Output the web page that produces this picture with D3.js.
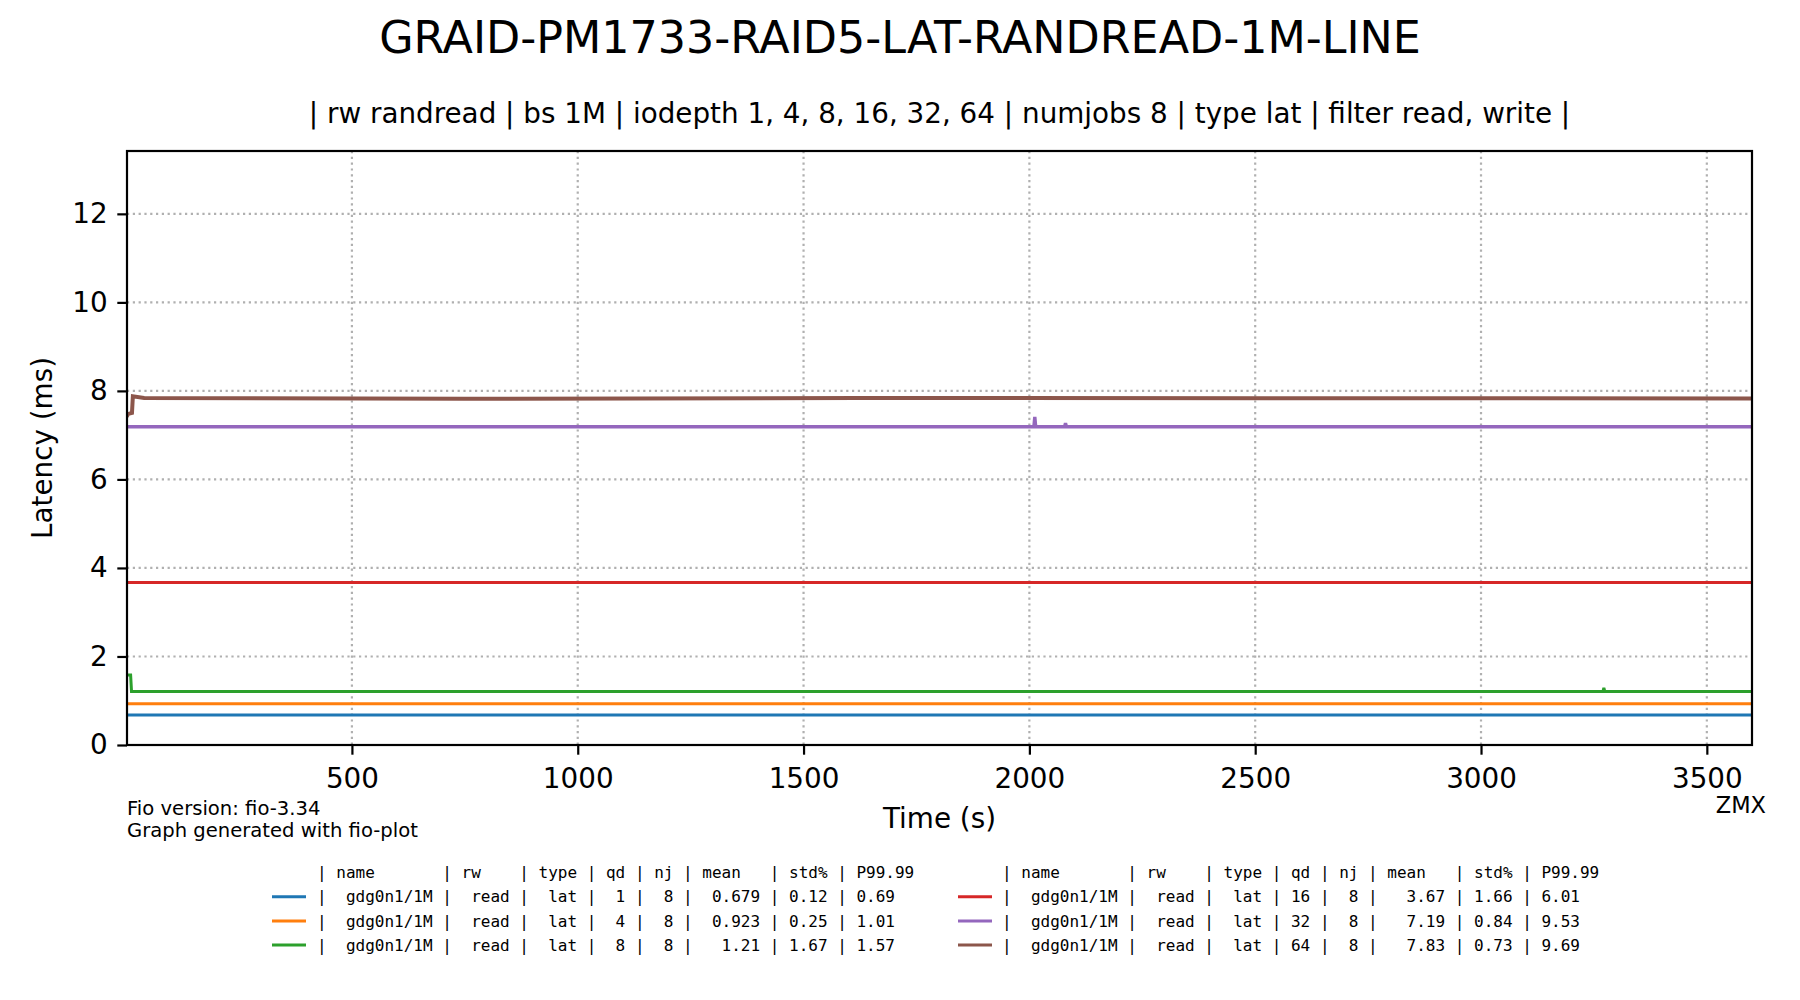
<!DOCTYPE html>
<html>
<head>
<meta charset="utf-8">
<script src="https://cdn.jsdelivr.net/npm/d3@7"></script>
<style>
  body { margin: 0; background: #fff; }
  svg { display: block; }
</style>
</head>
<body>
<svg id="chart" width="1800" height="1000"></svg>
<script>
// values: [time (s), latency (ms)] breakpoints
const seriesNames = ["qd1", "qd4", "qd8", "qd16", "qd32", "qd64"];
const colors = ["#1f77b4", "#ff7f0e", "#2ca02c", "#d62728", "#9467bd", "#8c564b"];
const qd1 = [[1, 0.68], [3600, 0.68]];
const qd4 = [[1, 0.93], [3600, 0.93]];
const qd8 = [[1, 1.58], [10, 1.58], [12, 1.21], [3270, 1.21], [3272, 1.29], [3274, 1.21], [3600, 1.21]];
const qd16 = [[1, 3.67], [3600, 3.67]];
const qd32 = [[1, 7.19], [2010, 7.19], [2012, 7.41], [2014, 7.19], [2078, 7.19], [2080, 7.27], [2082, 7.19], [3600, 7.19]];
const qd64 = [[1, 7.42], [5, 7.48], [13, 7.5], [15, 7.88], [40, 7.84], [750, 7.82], [1620, 7.84], [3600, 7.83]];
const seriesData = [qd1, qd4, qd8, qd16, qd32, qd64];

const xTicks = [500, 1000, 1500, 2000, 2500, 3000, 3500];
const yTicks = [0, 2, 4, 6, 8, 10, 12];

const legendHeader = "| name       | rw    | type | qd | nj | mean   | std% | P99.99";
const legendRows = [
  "|  gdg0n1/1M |  read |  lat |  1 |  8 |  0.679 | 0.12 | 0.69",
  "|  gdg0n1/1M |  read |  lat |  4 |  8 |  0.923 | 0.25 | 1.01",
  "|  gdg0n1/1M |  read |  lat |  8 |  8 |   1.21 | 1.67 | 1.57",
  "|  gdg0n1/1M |  read |  lat | 16 |  8 |   3.67 | 1.66 | 6.01",
  "|  gdg0n1/1M |  read |  lat | 32 |  8 |   7.19 | 0.84 | 9.53",
  "|  gdg0n1/1M |  read |  lat | 64 |  8 |   7.83 | 0.73 | 9.69"
];

const svg = d3.select("#chart");
const sans = "'DejaVu Sans', sans-serif";
const mono = "'DejaVu Sans Mono', monospace";

const plot = {left: 127, right: 1752, top: 151, bottom: 745};
const x = d3.scaleLinear().domain([2, 3600]).range([plot.left, plot.right]);
const y = d3.scaleLinear().domain([0, 13.42]).range([plot.bottom, plot.top]);

svg.append("defs").append("clipPath").attr("id", "clip")
  .append("rect")
  .attr("x", plot.left).attr("y", plot.top)
  .attr("width", plot.right - plot.left).attr("height", plot.bottom - plot.top);

// grid
const grid = svg.append("g").attr("stroke", "#b0b0b0").attr("stroke-width", 2.2)
  .attr("stroke-dasharray", "2.2,3.6");
grid.selectAll(".gx").data(xTicks).enter().append("line")
  .attr("x1", d => x(d)).attr("x2", d => x(d))
  .attr("y1", plot.top).attr("y2", plot.bottom);
grid.selectAll(".gy").data(yTicks.slice(1)).enter().append("line")
  .attr("x1", plot.left).attr("x2", plot.right)
  .attr("y1", d => y(d)).attr("y2", d => y(d));

// lines
const line = d3.line().x(d => x(d[0])).y(d => y(d[1]));
const widths = [3, 3, 3, 3, 3.4, 4];
svg.append("g").attr("clip-path", "url(#clip)")
  .selectAll("path").data(seriesData).enter().append("path")
  .attr("d", line)
  .attr("fill", "none")
  .attr("stroke", (d, i) => colors[i])
  .attr("stroke-width", (d, i) => widths[i])
  .attr("stroke-linejoin", "miter");

// axes
const xAxis = svg.append("g").attr("transform", "translate(0," + plot.bottom + ")")
  .call(d3.axisBottom(x).tickValues(xTicks).tickFormat(d3.format("d")).tickSize(9.7).tickPadding(12.5))
  .call(g => g.select(".domain").remove());
const yAxis = svg.append("g").attr("transform", "translate(" + plot.left + ",0)")
  .call(d3.axisLeft(y).tickValues(yTicks).tickSize(9.7).tickPadding(9.7))
  .call(g => g.select(".domain").remove());
[xAxis, yAxis].forEach(function (g) {
  g.selectAll("line").attr("stroke", "#000").attr("stroke-width", 2.2);
  g.selectAll("text").attr("fill", "#000")
    .style("font-family", sans).style("font-size", "27.8px");
});
xAxis.selectAll("text").attr("dy", "0.75em");

// frame
svg.append("rect")
  .attr("x", plot.left).attr("y", plot.top)
  .attr("width", plot.right - plot.left).attr("height", plot.bottom - plot.top)
  .attr("fill", "none").attr("stroke", "#000").attr("stroke-width", 2.2);

// titles and labels
svg.append("text").text("GRAID-PM1733-RAID5-LAT-RANDREAD-1M-LINE")
  .attr("x", 900).attr("y", 53).attr("text-anchor", "middle")
  .style("font-family", sans).style("font-size", "44.4px");
svg.append("text").text("| rw randread | bs 1M | iodepth 1, 4, 8, 16, 32, 64 | numjobs 8 | type lat | filter read, write |")
  .attr("x", (plot.left + plot.right) / 2).attr("y", 123).attr("text-anchor", "middle")
  .style("font-family", sans).style("font-size", "27.8px");
svg.append("text").text("Time (s)")
  .attr("x", (plot.left + plot.right) / 2).attr("y", 828).attr("text-anchor", "middle")
  .style("font-family", sans).style("font-size", "27.8px");
svg.append("text").text("Latency (ms)")
  .attr("transform", "translate(52," + ((plot.top + plot.bottom) / 2) + ") rotate(-90)")
  .attr("text-anchor", "middle")
  .style("font-family", sans).style("font-size", "27.8px");
svg.append("text").text("Fio version: fio-3.34")
  .attr("x", plot.left).attr("y", 815)
  .style("font-family", sans).style("font-size", "19.6px");
svg.append("text").text("Graph generated with fio-plot")
  .attr("x", plot.left).attr("y", 837)
  .style("font-family", sans).style("font-size", "19.6px");
svg.append("text").text("ZMX")
  .attr("x", 1766).attr("y", 813).attr("text-anchor", "end")
  .style("font-family", sans).style("font-size", "22.5px");

// legend, two columns of three
const legendCols = [{hx: 272, tx: 317}, {hx: 958, tx: 1002}];
const rowStep = 24.2, headY = 872.5;
legendCols.forEach(function (c, ci) {
  svg.append("text").text(legendHeader)
    .attr("x", c.tx).attr("y", headY).attr("dy", "0.36em")
    .style("white-space", "pre")
    .style("font-family", mono).style("font-size", "16px");
  const rows = d3.range(3).map(r => ci * 3 + r);
  const g = svg.append("g");
  g.selectAll("line").data(rows).enter().append("line")
    .attr("x1", c.hx).attr("x2", c.hx + 34)
    .attr("y1", (d, r) => headY + (r + 1) * rowStep)
    .attr("y2", (d, r) => headY + (r + 1) * rowStep)
    .attr("stroke", d => colors[d]).attr("stroke-width", 3);
  g.selectAll("text").data(rows).enter().append("text")
    .text(d => legendRows[d])
    .attr("x", c.tx).attr("y", (d, r) => headY + (r + 1) * rowStep).attr("dy", "0.36em")
    .style("white-space", "pre")
    .style("font-family", mono).style("font-size", "16px");
});
</script>
</body>
</html>
